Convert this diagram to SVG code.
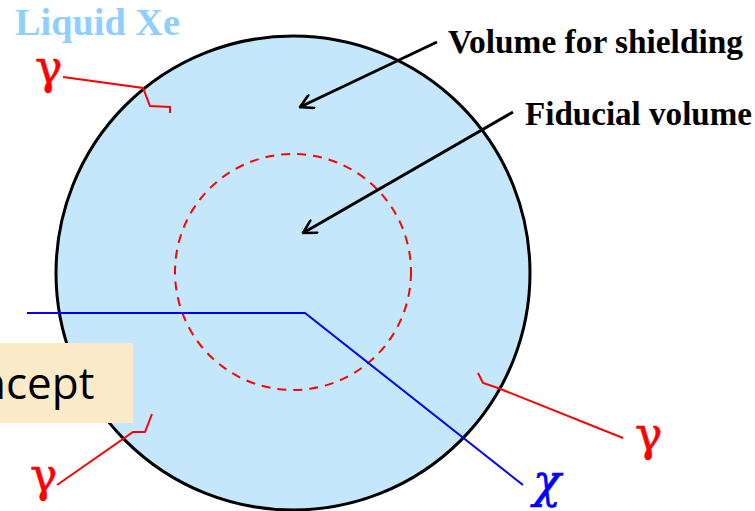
<svg xmlns="http://www.w3.org/2000/svg" width="755" height="511" viewBox="0 0 755 511">
<style>
.lbl{font-family:"Liberation Serif","Times New Roman",serif;font-weight:bold;font-size:33px;fill:#000}
.gam{font-family:"DejaVu Serif","Liberation Serif",serif;font-size:46px;fill:#FF0000;stroke:#FF0000;stroke-width:0.6}
.ray{fill:none;stroke:#FF0000;stroke-width:2;stroke-linejoin:miter}
.arrow{fill:none;stroke:#000;stroke-width:3}
</style>
<defs>
<marker id="head" viewBox="0 0 16 16" refX="14.5" refY="8" markerWidth="16" markerHeight="16" markerUnits="userSpaceOnUse" orient="auto">
<path d="M2,1 L14.5,8 L2,15" fill="none" stroke="#000" stroke-width="2.6" stroke-linecap="round"/>
</marker>
</defs>
<rect width="755" height="511" fill="#FFFFFF"/>
<g id="liquid-xe">
<circle cx="293" cy="273" r="237" fill="#C5E7FC" stroke="#000" stroke-width="3"/>
<text x="15" y="35" font-family="Liberation Serif, Times New Roman, serif" font-weight="bold" font-size="37" fill="#8ECFFF" textLength="165" lengthAdjust="spacingAndGlyphs">Liquid Xe</text>
</g>
<g id="fiducial">
<circle cx="293" cy="272" r="118" fill="none" stroke="#FF0000" stroke-width="2" stroke-dasharray="9 7"/>
</g>
<g id="label-shielding">
<text class="lbl" x="448" y="53" textLength="295" lengthAdjust="spacingAndGlyphs">Volume for shielding</text>
</g>
<g id="label-fiducial">
<text class="lbl" x="525" y="125" textLength="227" lengthAdjust="spacingAndGlyphs">Fiducial volume</text>
</g>
<g id="connectors">
<line class="arrow" x1="437" y1="42" x2="300" y2="107" marker-end="url(#head)"/>
<line class="arrow" x1="513" y1="112" x2="303" y2="233" marker-end="url(#head)"/>
<polyline points="27,313 305,313 523,485" fill="none" stroke="#0000FF" stroke-width="2"/>
<polyline class="ray" points="63,77 143,88 150,106 170,107 170,113"/>
<polyline class="ray" points="57,485 133,432 145,432 152,414"/>
<polyline class="ray" points="623,438 498,388 483,383 478,373"/>
</g>
<g id="gamma-1"><text class="gam" x="35" y="83">γ</text></g>
<g id="gamma-2"><text class="gam" x="30" y="491">γ</text></g>
<g id="gamma-3"><text class="gam" x="635" y="450">γ</text></g>
<g id="chi"><text x="533" y="497" font-family="DejaVu Serif, Liberation Serif, serif" font-style="italic" font-size="46" fill="#0000FF" stroke="#0000FF" stroke-width="0.6">χ</text></g>
<g id="concept-box">
<rect x="0" y="343" width="133" height="80" fill="#FCEBC8"/>
<text x="-21" y="399" font-family="Open Sans, Noto Sans, sans-serif" font-size="44" fill="#000">ncept</text>
</g>
</svg>
